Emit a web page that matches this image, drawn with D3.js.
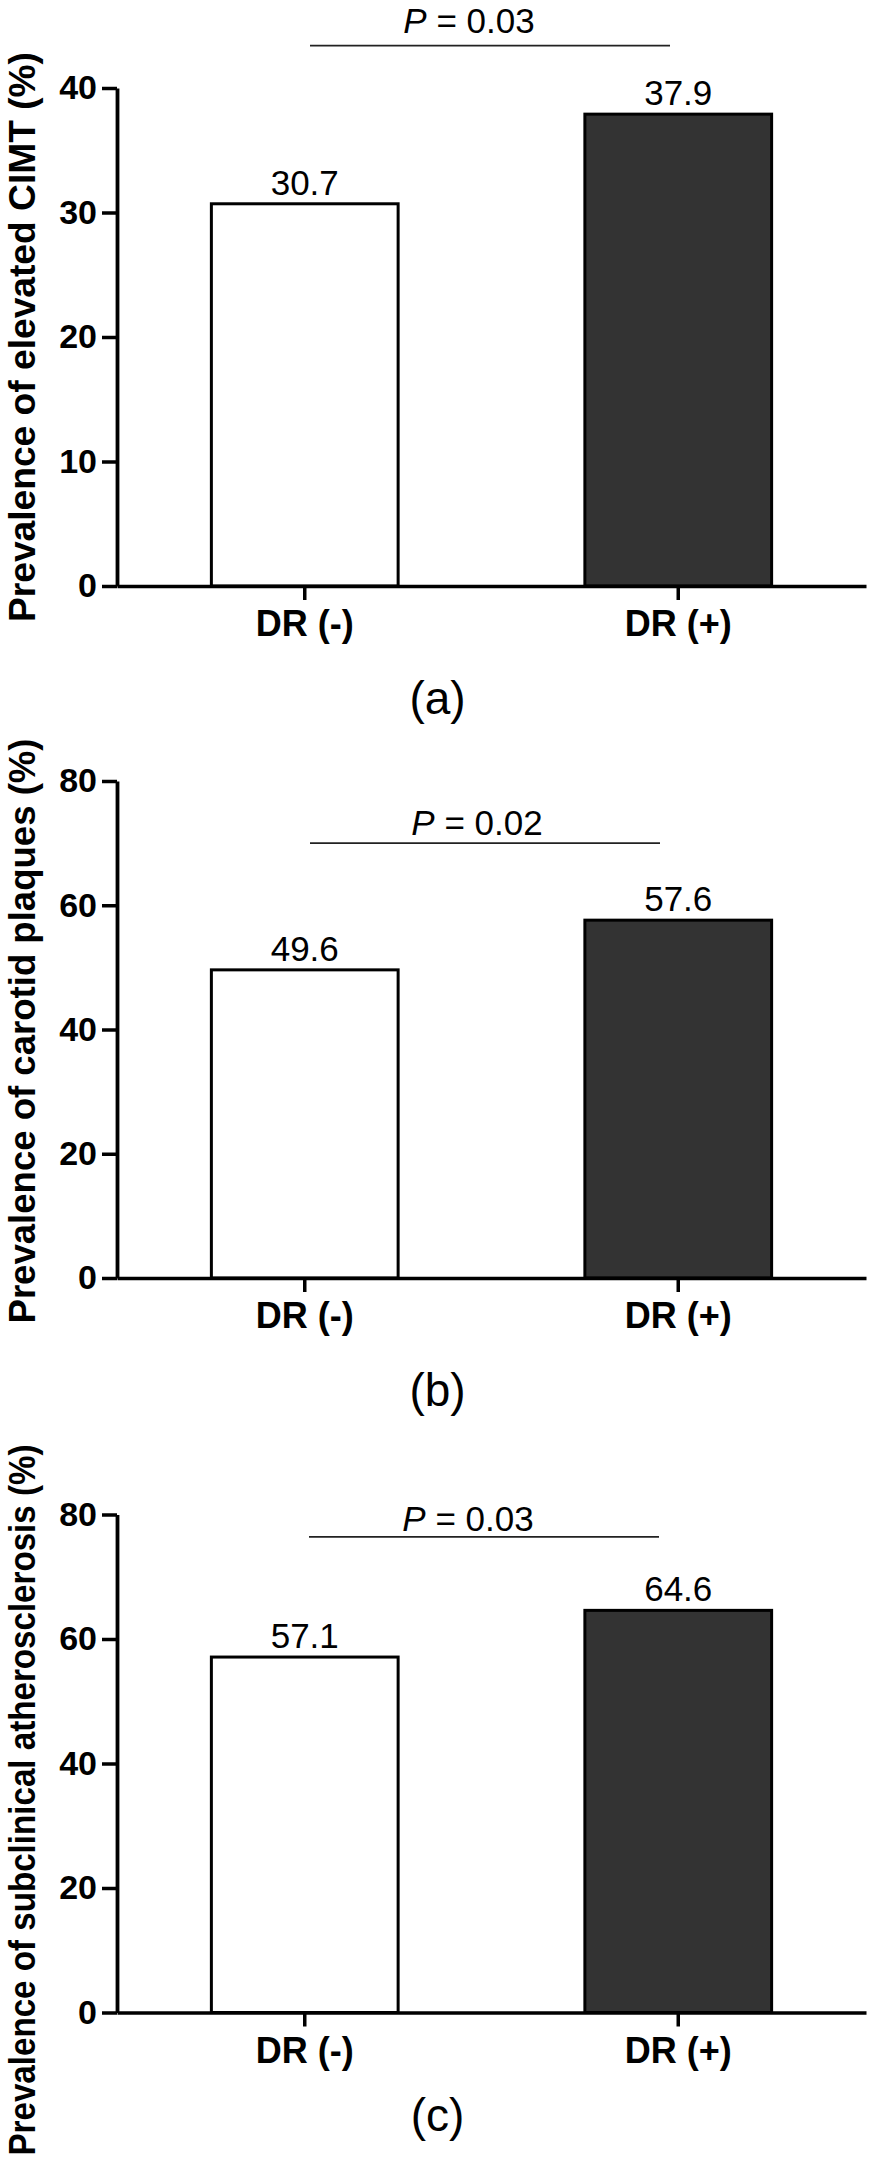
<!DOCTYPE html>
<html>
<head>
<meta charset="utf-8">
<script src="https://cdn.jsdelivr.net/npm/d3@7"></script>
<style>
  html, body { margin: 0; padding: 0; background: #fff; }
  svg { display: block; }
  text { font-family: "Liberation Sans", Arial, Helvetica, sans-serif; fill: #000; }
</style>
</head>
<body>
<div id="chart"></div>
<script>
// ---------------- data ----------------
const categories = ["DR (-)", "DR (+)"];
const panelLetters = ["(a)", "(b)", "(c)"];
const yTitles = [
  "Prevalence of elevated CIMT (%)",
  "Prevalence of carotid plaques (%)",
  "Prevalence of subclinical atherosclerosis (%)"
];
const valuesA = [30.7, 37.9];
const valuesB = [49.6, 57.6];
const valuesC = [57.1, 64.6];
const yTicksA = [0, 10, 20, 30, 40];
const yTicksB = [0, 20, 40, 60, 80];
const yTicksC = [0, 20, 40, 60, 80];
const pValues = ["0.03", "0.02", "0.03"];
const barFills = ["#ffffff", "#333333"];

// ---------------- layout (positions / sizes) ----------------
const W = 873, H = 2163;
const axisX = 117, axisRight = 866;
const panels = [
  { values: valuesA, ticks: yTicksA, y0: 586,    yTop: 88,     pLevel: 43.4, pText: 13, pX: 469, pL: 310, pR: 670, titleLen: 570, titleC: 337,  letterY: 714 },
  { values: valuesB, ticks: yTicksB, y0: 1278,   yTop: 781,    pLevel: 70.0, pText: 8,  pX: 477, pL: 310, pR: 660, titleLen: 585, titleC: 1031, letterY: 1406 },
  { values: valuesC, ticks: yTicksC, y0: 2012.5, yTop: 1514.5, pLevel: 76.4, pText: 6,  pX: 468, pL: 309, pR: 659, titleLen: 711, titleC: 1800, letterY: 2131 }
];

const svg = d3.select("#chart").append("svg")
  .attr("width", W).attr("height", H)
  .attr("viewBox", `0 0 ${W} ${H}`);

const x = d3.scaleBand()
  .domain(categories)
  .range([axisX, axisRight])
  .paddingInner(0.5)
  .paddingOuter(0.2527);

panels.forEach((p, i) => {
  const g = svg.append("g");
  const yMax = d3.max(p.ticks);
  const y = d3.scaleLinear().domain([0, yMax]).range([p.y0, p.yTop]);

  // bars
  g.selectAll("rect.bar")
    .data(p.values)
    .join("rect")
    .attr("class", "bar")
    .attr("x", (d, j) => x(categories[j]))
    .attr("width", x.bandwidth())
    .attr("y", d => y(d))
    .attr("height", d => y(0) - y(d))
    .attr("fill", (d, j) => barFills[j])
    .attr("stroke", "#000")
    .attr("stroke-width", 3);

  // value labels
  g.selectAll("text.val")
    .data(p.values)
    .join("text")
    .attr("class", "val")
    .attr("x", (d, j) => x(categories[j]) + x.bandwidth() / 2)
    .attr("y", d => y(d) - 9)
    .attr("text-anchor", "middle")
    .style("font-size", "35px")
    .text(d => d.toFixed(1));

  // y axis
  const yAxis = d3.axisLeft(y)
    .tickValues(p.ticks)
    .tickSize(15)
    .tickSizeOuter(0)
    .tickPadding(5)
    .tickFormat(d3.format("d"));
  const ya = g.append("g")
    .attr("transform", `translate(${axisX},0)`)
    .call(yAxis);
  ya.select(".domain").attr("stroke", "#000").attr("stroke-width", 3.8);
  ya.selectAll(".tick line").attr("stroke", "#000").attr("stroke-width", 3.5);
  ya.selectAll(".tick text")
    .style("font-size", "34px")
    .style("font-weight", "bold")
    .attr("fill", "#000");

  // x axis
  const xAxis = d3.axisBottom(x).tickSize(14).tickSizeOuter(0);
  const xa = g.append("g")
    .attr("transform", `translate(0,${p.y0})`)
    .call(xAxis);
  xa.select(".domain").attr("stroke", "#000").attr("stroke-width", 3.5);
  xa.selectAll(".tick line").attr("stroke", "#000").attr("stroke-width", 3.5);
  xa.selectAll(".tick text")
    .attr("y", 50)
    .attr("dy", 0)
    .style("font-size", "36px")
    .style("font-weight", "bold")
    .attr("fill", "#000");

  // significance line + P text
  const ly = y(p.pLevel);
  g.append("line")
    .attr("x1", p.pL).attr("x2", p.pR)
    .attr("y1", ly).attr("y2", ly)
    .attr("stroke", "#222")
    .attr("stroke-width", 1.8);
  const pt = g.append("text")
    .attr("x", p.pX)
    .attr("y", ly - p.pText)
    .attr("text-anchor", "middle")
    .style("font-size", "35px");
  pt.append("tspan").style("font-style", "italic").text("P");
  pt.append("tspan").text(" = " + pValues[i]);

  // y title
  g.append("text")
    .attr("transform", `translate(35,${p.titleC}) rotate(-90)`)
    .attr("text-anchor", "middle")
    .attr("textLength", p.titleLen)
    .attr("lengthAdjust", "spacingAndGlyphs")
    .style("font-size", "36px")
    .style("font-weight", "bold")
    .text(yTitles[i]);

  // panel letter
  g.append("text")
    .attr("x", 437.5)
    .attr("y", p.letterY)
    .attr("text-anchor", "middle")
    .style("font-size", "46px")
    .text(panelLetters[i]);
});
</script>
</body>
</html>
